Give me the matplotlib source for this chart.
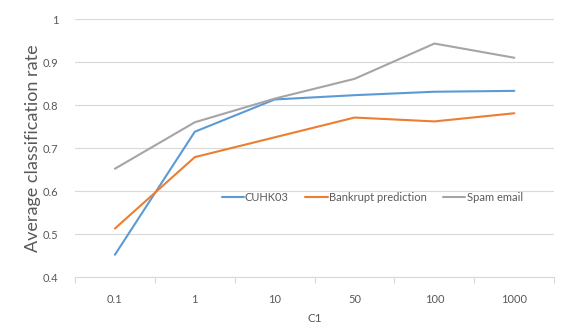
import matplotlib
matplotlib.use("Agg")
import matplotlib.pyplot as plt
from matplotlib.ticker import FixedLocator

categories = ["0.1", "1", "10", "50", "100", "1000"]
cuhk03 = [0.452, 0.738, 0.813, 0.823, 0.831, 0.833]
bankrupt = [0.513, 0.679, 0.725, 0.771, 0.762, 0.781]
spam = [0.652, 0.760, 0.815, 0.861, 0.943, 0.910]
series_names = ["CUHK03", "Bankrupt prediction", "Spam email"]
yticks = [0.4, 0.5, 0.6, 0.7, 0.8, 0.9, 1.0]
ytick_labels = ["0.4", "0.5", "0.6", "0.7", "0.8", "0.9", "1"]

plt.rcParams['font.family'] = ['Lato', 'DejaVu Sans']
fig = plt.figure(figsize=(5.81, 3.28), dpi=100)
ax = fig.add_axes([0.129, 0.155, 0.825, 0.787])

x = list(range(len(categories)))
colors = ["#5B9BD5", "#ED7D31", "#A5A5A5"]
for vals, name, c in zip([cuhk03, bankrupt, spam], series_names, colors):
    ax.plot(x, vals, color=c, lw=1.5, label=name, solid_capstyle='round')

ax.set_xlim(-0.5, len(categories) - 0.5)
ax.set_ylim(0.4, 1.0)
ax.set_yticks(yticks)
ax.set_yticklabels(ytick_labels)
ax.set_xticks(x)
ax.set_xticklabels(categories)
ax.xaxis.set_minor_locator(FixedLocator([i - 0.5 for i in range(len(categories) + 1)]))
ax.tick_params(axis='x', which='major', length=0, pad=12, labelsize=8, labelcolor="#595959")
ax.tick_params(axis='x', which='minor', length=4, color="#D9D9D9", width=0.8)
ax.tick_params(axis='y', length=0, pad=12, labelsize=8, labelcolor="#595959")
ax.grid(axis='y', color="#D9D9D9", lw=0.8)
ax.set_axisbelow(True)
for s in ['top', 'right', 'left']:
    ax.spines[s].set_visible(False)
ax.spines['bottom'].set_color("#D9D9D9")
ax.spines['bottom'].set_linewidth(0.8)

ax.set_ylabel("Average classification rate", fontsize=13, color="#595959", labelpad=1)
ax.set_xlabel("C1", fontsize=8.5, color="#595959", labelpad=6)

leg = ax.legend(loc='center', bbox_to_anchor=(0.62, 0.31), ncol=3, frameon=False,
                fontsize=8, handlelength=2.0, handletextpad=0.1, columnspacing=1.5)
for t in leg.get_texts():
    t.set_color("#595959")

fig.savefig("out.png", dpi=100)
